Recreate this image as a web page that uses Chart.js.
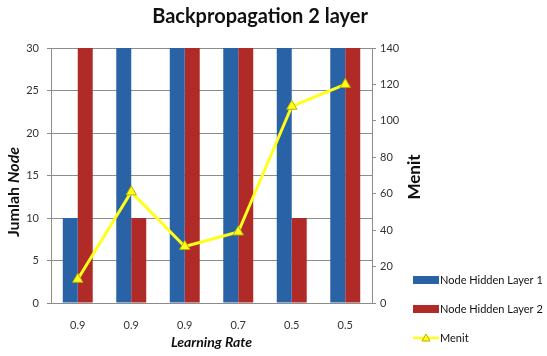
<!DOCTYPE html>
<html>
<head>
<meta charset="utf-8">
<script src="https://cdn.jsdelivr.net/npm/chart.js@4.4.1/dist/chart.umd.min.js"></script>
<style>
  html, body { margin: 0; padding: 0; background: #fff; }
  #wrap { width: 547px; height: 356px; position: relative; }
</style>
</head>
<body>
<div id="wrap"><canvas id="chart"></canvas></div>
<script>
const learningRates = ['0.9', '0.9', '0.9', '0.7', '0.5', '0.5'];
const hiddenLayer1 = [10, 30, 30, 30, 30, 30];
const hiddenLayer2 = [30, 10, 30, 30, 10, 30];
const menit = [13, 61, 31, 39, 108, 120];
const nodeTicks = [0, 5, 10, 15, 20, 25, 30];
const menitTicks = [0, 20, 40, 60, 80, 100, 120, 140];

const COLORS = { blue: '#2a62a6', red: '#b02a28', yellow: '#ffff1a', yellowEdge: '#b8b000', grid: '#8c8c8c', text: '#333' };
const FONT = 'Lato, "Open Sans", sans-serif';

// draws the title, both y axis titles and the legend
const decorations = {
  id: 'decorations',
  afterDraw(chart) {
    const ctx = chart.ctx;
    ctx.save();
    ctx.fillStyle = '#111';
    ctx.textAlign = 'center';
    ctx.textBaseline = 'middle';
    ctx.font = `bold 20px ${FONT}`;
    ctx.fillText('Backpropagation 2 layer', 260, 17);

    // left title: "Jumlah" bold, "Node" bold italic
    ctx.save();
    ctx.translate(14, 192);
    ctx.rotate(-Math.PI / 2);
    const a = 'Jumlah ', b = 'Node';
    ctx.font = `bold 16px ${FONT}`;
    const wa = ctx.measureText(a).width;
    ctx.font = `italic bold 16px ${FONT}`;
    const wb = ctx.measureText(b).width;
    ctx.textAlign = 'left';
    ctx.font = `bold 16px ${FONT}`;
    ctx.fillText(a, -(wa + wb) / 2, 0);
    ctx.font = `italic bold 16px ${FONT}`;
    ctx.fillText(b, -(wa + wb) / 2 + wa, 0);
    ctx.restore();

    ctx.save();
    ctx.translate(415, 177);
    ctx.rotate(-Math.PI / 2);
    ctx.font = `bold 17px ${FONT}`;
    ctx.fillText('Menit', 0, 0);
    ctx.restore();

    // legend: bars first, then the line
    const items = [...chart.data.datasets].sort((p, q) => (p.type === 'line') - (q.type === 'line'));
    const rows = [280, 309, 338];
    ctx.font = `11px ${FONT}`;
    ctx.textAlign = 'left';
    items.forEach((ds, i) => {
      const y = rows[i];
      if (ds.type === 'line') {
        ctx.strokeStyle = COLORS.yellow;
        ctx.lineWidth = 2.5;
        ctx.beginPath(); ctx.moveTo(413, y); ctx.lineTo(439, y); ctx.stroke();
        ctx.fillStyle = COLORS.yellow;
        ctx.strokeStyle = COLORS.yellowEdge;
        ctx.lineWidth = 1;
        ctx.beginPath(); ctx.moveTo(426, y - 4); ctx.lineTo(430, y + 3); ctx.lineTo(422, y + 3); ctx.closePath();
        ctx.fill(); ctx.stroke();
      } else {
        ctx.fillStyle = ds.backgroundColor;
        ctx.fillRect(413, y - 4, 26, 8);
      }
      ctx.fillStyle = '#111';
      ctx.fillText(ds.label, 440, y);
    });
    ctx.restore();
  }
};

new Chart(document.getElementById('chart'), {
  data: {
    labels: learningRates,
    datasets: [
      { type: 'line', label: 'Menit', data: menit, yAxisID: 'y1', borderColor: COLORS.yellow, borderWidth: 3,
        pointStyle: 'triangle', pointRadius: 6, pointBackgroundColor: COLORS.yellow, pointBorderColor: COLORS.yellowEdge,
        pointBorderWidth: 1, tension: 0, order: 0 },
      { type: 'bar', label: 'Node Hidden Layer 1', data: hiddenLayer1, yAxisID: 'y', backgroundColor: COLORS.blue,
        categoryPercentage: 0.56, barPercentage: 1, order: 1 },
      { type: 'bar', label: 'Node Hidden Layer 2', data: hiddenLayer2, yAxisID: 'y', backgroundColor: COLORS.red,
        categoryPercentage: 0.56, barPercentage: 1, order: 1 },
    ],
  },
  options: {
    responsive: true,
    maintainAspectRatio: false,
    animation: false,
    layout: { padding: { top: 48, bottom: 0, left: 0, right: 0 } },
    plugins: { legend: { display: false }, title: { display: false }, tooltip: { enabled: false } },
    scales: {
      x: {
        afterFit: s => { s.height = 53; },
        grid: { display: false, drawTicks: false },
        border: { color: COLORS.grid, width: 1 },
        ticks: { color: COLORS.text, font: { family: FONT, size: 11 }, padding: 16, maxRotation: 0 },
        title: { display: true, text: 'Learning Rate', color: '#111', font: { family: FONT, size: 14, weight: 'bold', style: 'italic' }, padding: { top: 0, bottom: 5 } },
      },
      y: {
        position: 'left', min: 0, max: 30,
        afterBuildTicks: s => { s.ticks = nodeTicks.map(v => ({ value: v })); },
        afterFit: s => { s.width = 51; },
        grid: { color: COLORS.grid, tickLength: 4 },
        border: { color: COLORS.grid },
        ticks: { color: COLORS.text, font: { family: FONT, size: 11 }, padding: 8 },
      },
      y1: {
        position: 'right', min: 0, max: 140,
        afterBuildTicks: s => { s.ticks = menitTicks.map(v => ({ value: v })); },
        afterFit: s => { s.width = 175; },
        grid: { drawOnChartArea: false, color: COLORS.grid, tickLength: 4 },
        border: { color: COLORS.grid },
        ticks: { color: COLORS.text, font: { family: FONT, size: 11 }, padding: 4 },
      },
    },
  },
  plugins: [decorations],
});
</script>
</body>
</html>
